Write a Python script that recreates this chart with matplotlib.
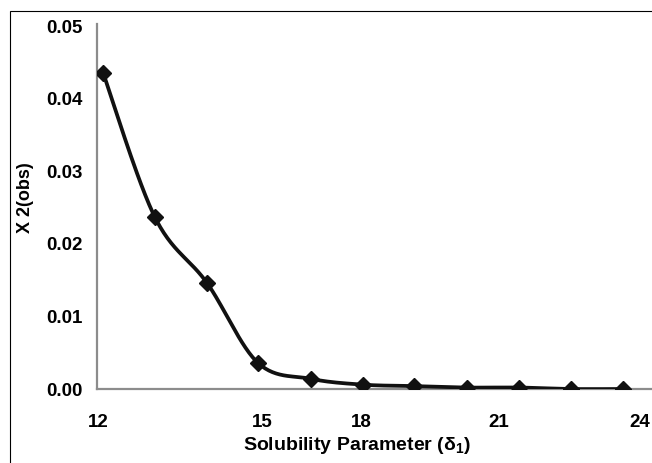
import numpy as np
import matplotlib
matplotlib.use("Agg")
import matplotlib.pyplot as plt
from matplotlib.patches import Rectangle

# data
solub = [12.13, 13.25, 14.38, 15.48, 16.63, 17.75, 18.85, 20.0, 21.12, 22.25, 23.37]
x2obs = [0.0436, 0.0237, 0.0146, 0.0036, 0.0014, 0.0006, 0.0004, 0.0002, 0.0002, 0.0, 0.0]
yticks = [0.00, 0.01, 0.02, 0.03, 0.04, 0.05]
xtick_labels = ["12", "15", "18", "21", "24"]
xtick_pos = [12.02, 15.57, 17.71, 20.69, 23.74]

plt.rcParams["font.family"] = ["Liberation Sans", "DejaVu Sans"]
plt.rcParams["font.weight"] = "bold"
plt.rcParams["mathtext.default"] = "regular"


def smooth(x, y, n=30):
    # excel-like smoothed line (catmull-rom bezier through the points)
    p = np.column_stack([x, y])
    pts = [p[0]] + list(p) + [p[-1]]
    out = []
    t = np.linspace(0, 1, n)[:, None]
    for i in range(1, len(pts) - 2):
        p0, p1, p2, p3 = pts[i - 1], pts[i], pts[i + 1], pts[i + 2]
        c1 = p1 + (p2 - p0) / 6
        c2 = p2 - (p3 - p1) / 6
        seg = (1 - t) ** 3 * p1 + 3 * (1 - t) ** 2 * t * c1 + 3 * (1 - t) * t ** 2 * c2 + t ** 3 * p2
        out.append(seg)
    out = np.vstack(out)
    return out[:, 0], out[:, 1]


fig = plt.figure(figsize=(6.52, 4.63), dpi=100)
ax = fig.add_axes([97 / 652, 74 / 463, 555 / 652, 365 / 463])

sx, sy = smooth(solub, x2obs)
ax.plot(sx, sy, color="#111111", lw=2.7, solid_capstyle="round", zorder=3)
ax.plot(solub, x2obs, ls="none", marker="D", ms=8.3, color="#111111", zorder=4)

ax.set_xlim(12, 24)
ax.set_ylim(0, 0.0503)
ax.set_yticks(yticks)
ax.set_yticklabels(["%.2f" % v for v in yticks])
ax.set_xticks(xtick_pos)
ax.set_xticklabels(xtick_labels)
ax.tick_params(axis="both", length=0, labelsize=13.5)
ax.tick_params(axis="y", pad=10)
ax.tick_params(axis="x", pad=18)

for s in ["top", "right"]:
    ax.spines[s].set_visible(False)
for s in ["left", "bottom"]:
    ax.spines[s].set_color("#8c8c8c")
    ax.spines[s].set_linewidth(1.6)
    ax.spines[s].set_zorder(1)

fig.text(25 / 652, 1 - 198 / 463, "X 2(obs)", rotation=90, ha="center", va="center",
         fontsize=13, fontweight="bold")
fig.text(357 / 652, 1 - 446 / 463, "Solubility Parameter (δ$_1$)", ha="center", va="center",
         fontsize=14, fontweight="bold")

# chart border (cut off at right and bottom)
fig.patches.append(Rectangle((10 / 652, -0.5), 2, 0.5 + 1 - 11 / 463, fill=False,
                             lw=0.8, ec="black", transform=fig.transFigure))

fig.savefig("out.png", dpi=100)
